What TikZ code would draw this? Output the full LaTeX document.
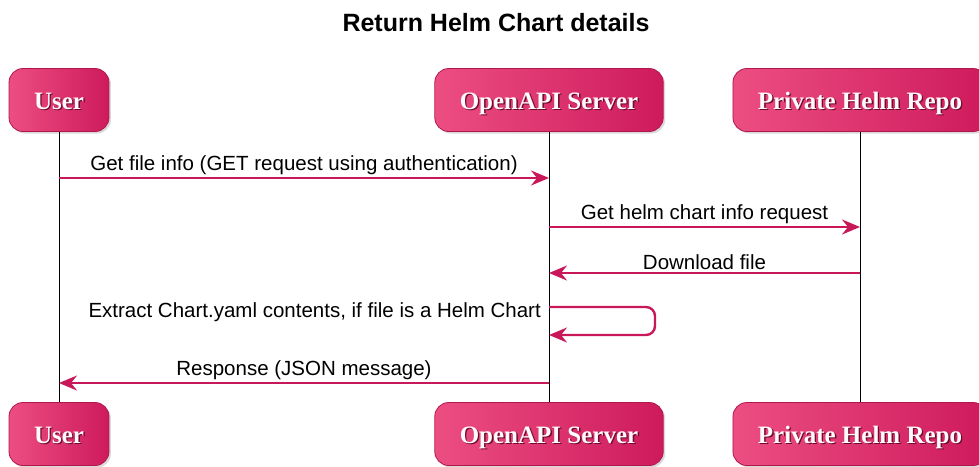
\documentclass[tikz,border=0pt]{standalone}
\usepackage{fontspec}
\setmainfont{Liberation Sans}
\newfontfamily\actorfont{Liberation Serif}
\usetikzlibrary{arrows.meta,shadows}
\definecolor{msgred}{RGB}{200,24,90}
\definecolor{actorlight}{RGB}{236,78,130}
\definecolor{actordark}{RGB}{206,26,92}
\definecolor{actorline}{RGB}{176,24,76}
\definecolor{actorshade}{RGB}{110,10,45}
\newcommand\actortext[1]{\makebox[0pt][l]{\hspace{1.4pt}\raisebox{-1.4pt}{\textcolor{actorshade}{#1}}}\textcolor{white!94!pink}{#1}}
\tikzset{
	actor/.style={rounded corners=14pt, draw=actorline, line width=0.8pt,
		left color=actorlight, right color=actordark,
		minimum height=63pt, inner xsep=25pt, text height=18pt, text depth=0pt,
		font=\actorfont\bfseries\fontsize{25}{30}\selectfont,
		drop shadow={shadow xshift=2pt, shadow yshift=-2pt, opacity=0.3}},
	lifeline/.style={black, line width=0.9pt},
	msg/.style={draw=msgred, line width=2.4pt, -{Stealth[length=18pt,width=15pt,inset=6pt]}},
	msgtext/.style={font=\fontsize{20.5}{24}\selectfont, inner sep=2pt},
}

\begin{document}
\begin{tikzpicture}[x=1pt,y=-1pt]
			%%%%% START %%%%%
			\useasboundingbox (0,0) rectangle (979,466);
			
			\node[font=\bfseries\fontsize{25}{30}\selectfont] (title) at (496,23) {Return Helm Chart details};
			
			% participants
			\node[actor] (userT) at (59,100) {\actortext{User}};
			\node[actor] (apiT) at (549,100) {\actortext{OpenAPI Server}};
			\node[actor] (repoT) at (860,100) {\actortext{Private Helm Repo}};
			
			\node[actor] (userB) at (59,434) {\actortext{User}};
			\node[actor] (apiB) at (549,434) {\actortext{OpenAPI Server}};
			\node[actor] (repoB) at (860,434) {\actortext{Private Helm Repo}};
			
			\draw[lifeline] (userT.south) -- (userB.north);
			\draw[lifeline] (apiT.south) -- (apiB.north);
			\draw[lifeline] (repoT.south) -- (repoB.north);
			
			% message points
			\coordinate (u1) at (59,178);
			\coordinate (a1) at (549,178);
			\coordinate (a2) at (549,227);
			\coordinate (r2) at (860,227);
			\coordinate (r3) at (860,273);
			\coordinate (a3) at (549,273);
			\coordinate (a4) at (549,307);
			\coordinate (s4a) at (655,307);
			\coordinate (s4b) at (655,335);
			\coordinate (a4b) at (549,335);
			\coordinate (a5) at (549,383);
			\coordinate (u5) at (59,383);
			
			% messages
			\draw[msg] (u1) -- node[msgtext, above] (m1) {Get file info (GET request using authentication)} (a1);
			\draw[msg] (a2) -- node[msgtext, above] (m2) {Get helm chart info request} (r2);
			\draw[msg] (r3) -- node[msgtext, above] (m3) {Download file} (a3);
			\draw[msg, rounded corners=9pt] (a4) -- (s4a) -- (s4b) -- (a4b);
			\node[msgtext, anchor=east] (m4) at (543,312) {Extract Chart.yaml contents, if file is a Helm Chart};
			\draw[msg] (a5) -- node[msgtext, above] (m5) {Response (JSON message)} (u5);
			
			%%%%% END %%%%%
\end{tikzpicture}
\end{document}
